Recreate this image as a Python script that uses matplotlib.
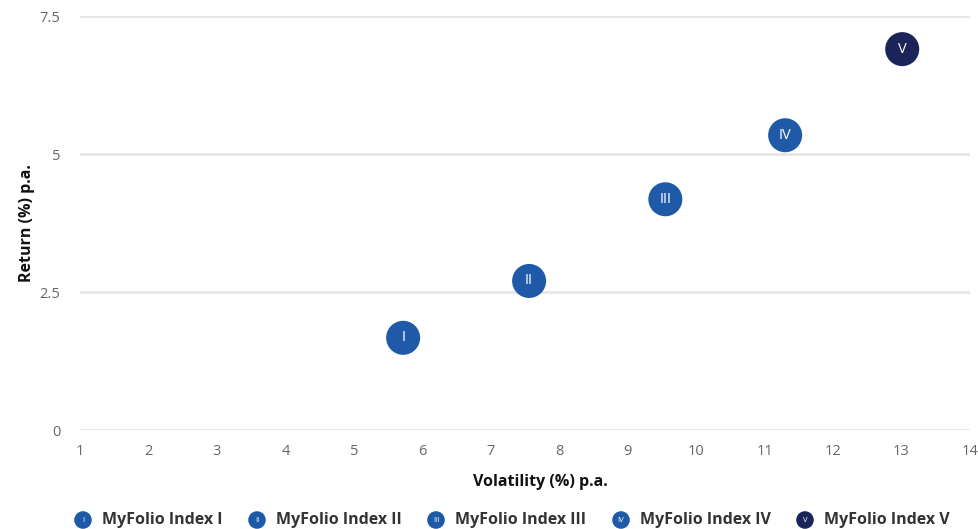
import matplotlib.pyplot as plt

plt.rcParams['font.family'] = ['Open Sans', 'DejaVu Sans']

names = ['MyFolio Index I', 'MyFolio Index II', 'MyFolio Index III',
         'MyFolio Index IV', 'MyFolio Index V']
numerals = ['I', 'II', 'III', 'IV', 'V']
volatility = [5.72, 7.56, 9.55, 11.30, 13.01]
returns = [1.67, 2.70, 4.18, 5.34, 6.90]
colors = ['#1f5aa8', '#1f5aa8', '#1f5aa8', '#1f5aa8', '#1b2459']

xticks = list(range(1, 15))
yticks = [0, 2.5, 5, 7.5]
ytick_labels = ['0', '2.5', '5', '7.5']

W, H = 979, 529
fig = plt.figure(figsize=(W / 100, H / 100), dpi=100)
ax = fig.add_axes([80 / W, 1 - 430 / H, 890 / W, 414 / H])

ax.set_xlim(1, 14)
ax.set_ylim(0, 7.5)
ax.set_xticks(xticks)
ax.set_yticks(yticks)
ax.set_yticklabels(ytick_labels)
ax.grid(axis='y', color='#e6e6e6', linewidth=2)
ax.set_axisbelow(True)
for s in ax.spines.values():
    s.set_visible(False)
ax.tick_params(length=0, labelsize=10.5, labelcolor='#666666')
ax.tick_params(axis='y', pad=14)
ax.tick_params(axis='x', pad=10)

ax.scatter(volatility, returns, s=600, c=colors, zorder=3, clip_on=False,
           linewidths=0)
for x, y, n in zip(volatility, returns, numerals):
    ax.text(x, y, n, color='white', fontsize=10.5, ha='center', va='center',
            zorder=4)

ax.set_xlabel('Volatility (%) p.a.', fontsize=11.5, fontweight='bold',
              color='#111111')
ax.xaxis.set_label_coords((540 - 80) / 890, -(474 - 430) / 414)
ax.set_ylabel('Return (%) p.a.', fontsize=11.5, fontweight='bold',
              color='#111111')
ax.yaxis.set_label_coords(-(80 - 35) / 890, 0.5)

# legend drawn in its own pixel-space axes
lax = fig.add_axes([0, 0, 1, 1], zorder=-1)
lax.set_xlim(0, W)
lax.set_ylim(H, 0)
lax.axis('off')
legend_x = [83, 257, 436, 621, 805]
lax.scatter(legend_x, [520] * 5, s=160, c=colors, linewidths=0)
for x, n, name in zip(legend_x, numerals, names):
    lax.text(x, 520, n, color='white', fontsize=5.5, ha='center', va='center')
    lax.text(x + 19, 520, name, color='#333333', fontsize=11.5,
             fontweight='bold', ha='left', va='center')

fig.savefig('out.png', dpi=100)
